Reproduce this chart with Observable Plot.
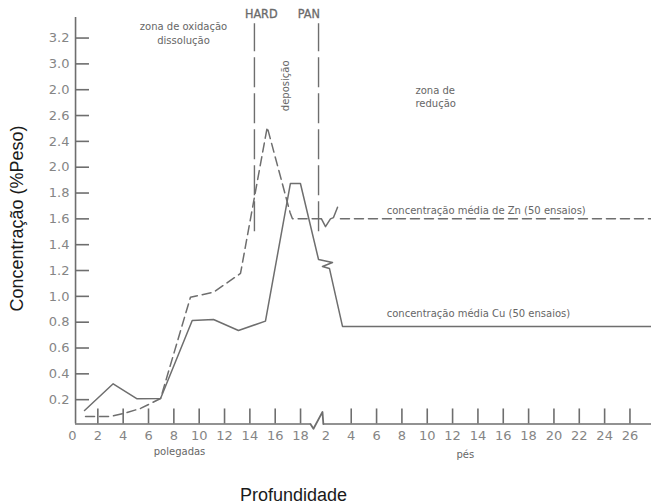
<!DOCTYPE html>
<html><head><meta charset="utf-8">
<script src="https://cdn.jsdelivr.net/npm/d3@7"></script>
<script src="https://cdn.jsdelivr.net/npm/@observablehq/plot@0.6"></script>
<style>body{margin:0;background:#fff} svg{display:block}</style>
</head><body><div id="chart"></div>
<script>
// Depth position: inches 0..18, then feet (position = 18 + feet)
const xTickPos = [0,2,4,6,8,10,12,14,16,18,20,22,24,26,28,30,32,34,36,38,40,42,44];
const xTickLabels = ["0","2","4","6","8","10","12","14","16","18","2","4","6","8","10","12","14","16","18","20","22","24","26"];
const xTickMarks = [2,4,6,8,10,12,14,16,18,22,24,26,28,30,32,34,36,38,40,42,44];

const yTickValues = [0.2,0.4,0.6,0.8,1.0,1.2,1.4,1.6,1.8,2.0,2.4,2.6,2.8,3.0,3.2];
const yTickLabels = ["0.2","0.4","0.6","0.8","1.0","1.2","1.4","1.6","1.8","2.0","2.4","2.6","2.0","3.0","3.2"];

// Cu (solid)
const cuDepth = [0.95,3.21,5.1,6.95,9.45,11.13,13.1,15.23,17.2,17.99,19.42,20.52,19.73,20.28,21.31,45.7];
const cuConc  = [0.116,0.323,0.207,0.209,0.813,0.821,0.736,0.808,1.874,1.874,1.285,1.262,1.231,1.216,0.767,0.767];

// Zn (dashed), before break, break symbol, after break
const znDepthA = [1.03,3.0,4.03,5.37,6.95,9.31,11.13,13.26,15.37,17.17,17.36,19.65];
const znConcA  = [0.07,0.07,0.093,0.132,0.209,0.993,1.032,1.177,2.51,1.65,1.60,1.60];
const znBreakDepth = [19.65,19.97,20.36,20.6,20.92];
const znBreakConc  = [1.60,1.54,1.60,1.61,1.69];
const znDepthB = [21.15,45.7];
const znConcB  = [1.60,1.60];

// Hard pan boundaries (depth position)
const hardPan = [14.36,19.42];

const cu = cuDepth.map((d,i)=>({d, c: cuConc[i]}));
const znA = znDepthA.map((d,i)=>({d, c: znConcA[i]}));
const znBr = znBreakDepth.map((d,i)=>({d, c: znBreakConc[i]}));
const znB = znDepthB.map((d,i)=>({d, c: znConcB[i]}));

const xLab = new Map(xTickPos.map((p,i)=>[p, xTickLabels[i]]));
const yLab = new Map(yTickValues.map((v,i)=>[v, yTickLabels[i]]));

const axisX0 = 0.24, axisY0 = 0.012;
const axisBreak = [{d:18.78,c:axisY0},{d:19.02,c:-0.025},{d:19.73,c:0.105},{d:19.8,c:axisY0}];

const gray = "#6e6e6e";
const notesMiddle = [
  {t:"zona de oxidação", d:8.76, c:3.285},
  {t:"dissolução", d:8.76, c:3.18},
  {t:"polegadas", d:8.45, c:-0.207},
  {t:"pés", d:31.0, c:-0.225}
];
const notesStart = [
  {t:"zona de", d:27.07, c:2.794},
  {t:"redução", d:27.07, c:2.694},
  {t:"concentração média de Zn (50 ensaios)", d:24.8, c:1.665},
  {t:"concentração média Cu (50 ensaios)", d:24.8, c:0.867}
];

const chart = Plot.plot({
  width: 651, height: 504,
  marginLeft: 72, marginRight: 0, marginTop: 11.7, marginBottom: 79,
  style: {fontFamily: "DejaVu Sans", background: "#fff"},
  x: {type: "linear", domain: [0, 45.7], range: [72, 651]},
  y: {type: "linear", domain: [0, 2.0, 2.4, 3.4], range: [425, 166.7, 140.87, 11.72]},
  marks: [
    Plot.axisX({ticks: xTickPos, tickFormat: d => xLab.get(d), label: null, tickSize: 0, tickPadding: 5, fontSize: 13, fill: "#858585", fontFamily: "DejaVu Sans"}),
    Plot.axisY({ticks: yTickValues, tickFormat: d => yLab.get(d), label: null, tickSize: 0, tickPadding: 3, fontSize: 13, fill: "#858585", fontFamily: "DejaVu Sans"}),
    Plot.ruleX([axisX0], {y1: axisY0, y2: 3.36, stroke: gray, strokeWidth: 1.6}),
    Plot.ruleY([axisY0], {x1: axisX0, x2: 18.78, stroke: gray, strokeWidth: 1.6}),
    Plot.ruleY([axisY0], {x1: 19.8, x2: 45.7, stroke: gray, strokeWidth: 1.6}),
    Plot.line(axisBreak, {x: "d", y: "c", stroke: gray, strokeWidth: 1.8}),
    Plot.ruleX(xTickMarks, {y1: axisY0, y2: 0.128, stroke: gray, strokeWidth: 1.6}),
    Plot.ruleY(yTickValues, {x1: axisX0, x2: 1.34, stroke: gray, strokeWidth: 1.6}),
    Plot.ruleX(hardPan, {y1: 1.5, y2: 3.31, stroke: gray, strokeWidth: 1.4, strokeDasharray: "30,6"}),
    Plot.line(cu, {x: "d", y: "c", stroke: gray, strokeWidth: 1.5}),
    Plot.line(znA, {x: "d", y: "c", stroke: gray, strokeWidth: 1.5, strokeDasharray: "9,5"}),
    Plot.line(znBr, {x: "d", y: "c", stroke: gray, strokeWidth: 1.5}),
    Plot.line(znB, {x: "d", y: "c", stroke: gray, strokeWidth: 1.5, strokeDasharray: "9,5"}),
    Plot.text(["HARD"], {x: 14.9, y: 3.39, fontFamily: "Liberation Sans Narrow, DejaVu Sans Condensed", fontSize: 12.5, fill: "#6a6a6a", stroke: "#6a6a6a", strokeWidth: 0.3}),
    Plot.text(["PAN"], {x: 18.66, y: 3.39, fontFamily: "Liberation Sans Narrow, DejaVu Sans Condensed", fontSize: 12.5, fill: "#6a6a6a", stroke: "#6a6a6a", strokeWidth: 0.3}),
    Plot.text(["deposição"], {x: 16.81, y: 2.83, rotate: -90, fontSize: 10, fill: "#666"}),
    Plot.text(notesMiddle, {x: "d", y: "c", text: "t", textAnchor: "middle", fontSize: 10, fill: "#666"}),
    Plot.text(notesStart, {x: "d", y: "c", text: "t", textAnchor: "start", fontSize: 10, fill: "#666"}),
    Plot.text(["Profundidade"], {x: 17.44, y: -0.542, fontSize: 18, fontFamily: "Liberation Sans", fill: "#1a1a1a"}),
    Plot.text(["Concentração (%Peso)"], {x: -4.38, y: 1.603, rotate: -90, fontSize: 18, fontFamily: "Liberation Sans", fill: "#1a1a1a"})
  ]
});
document.getElementById("chart").appendChild(chart);
</script>
</body></html>
